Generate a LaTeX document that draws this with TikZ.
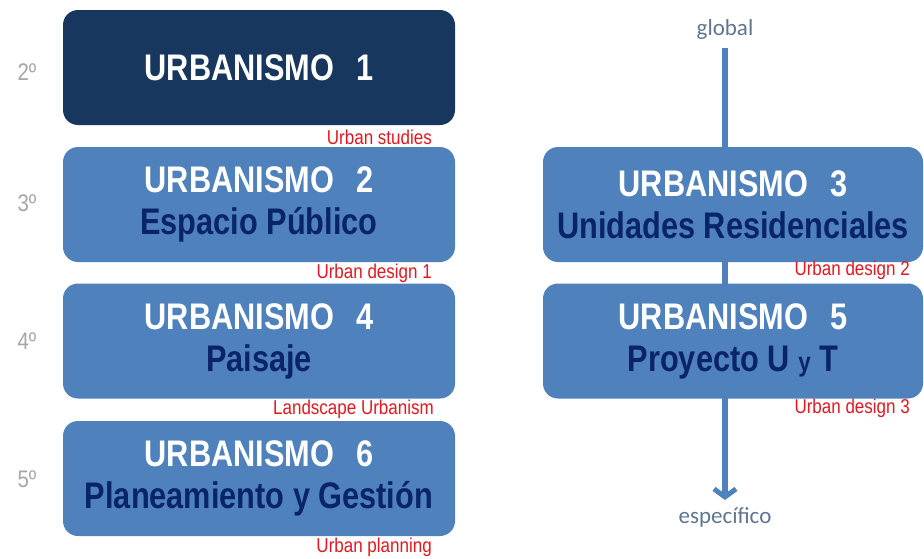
\documentclass[tikz,border=0pt]{standalone}
\usepackage{fontspec}
\usepackage{xcolor}
\usepackage{tikz}
\usetikzlibrary{arrows.meta}
\newfontfamily\boxfont[FakeStretch=0.83]{Liberation Sans}
\newfontfamily\tagfont[FakeStretch=0.85]{Liberation Sans}
\newfontfamily\notefont{Carlito}
\definecolor{darkbox}{RGB}{23,55,94}
\definecolor{lightbox}{RGB}{79,129,189}
\definecolor{subtext}{RGB}{10,36,104}
\definecolor{tagred}{RGB}{226,24,32}
\definecolor{yeargray}{RGB}{166,166,166}
\definecolor{notegray}{RGB}{95,117,144}

\begin{document}
\begin{tikzpicture}[
    x=1pt, y=-1pt,
    box/.style={rectangle, rounded corners=15pt, draw=none, fill=lightbox, text=white, align=center, minimum width=392pt, minimum height=115pt, inner sep=0pt, font=\boxfont\bfseries\fontsize{37}{42}\selectfont},
    rbox/.style={box, minimum width=380pt},
    tag/.style={anchor=east, inner sep=0pt, text=tagred, font=\tagfont\fontsize{20}{22}\selectfont},
    year/.style={inner sep=0pt, text=yeargray, font=\tagfont\fontsize{24}{26}\selectfont},
    note/.style={inner sep=0pt, text=notegray, font=\notefont\fontsize{23}{26}\selectfont},
    flow/.style={draw=lightbox, line width=5.5pt, -{Straight Barb[length=8pt, width=22pt, line width=5pt]}},
    ]
      \useasboundingbox (0,0) rectangle (924,558);

      \node [note] (global) at (725,29) {global};
      \node [note] (espec) at (725,517) {específico};
      \draw [flow] (global.south) ++(0,9) -- ([yshift=7pt]espec.north);

      \node [box, fill=darkbox] (u1) at (259,67.5) {URBANISMO\hspace{0.6em}1};
      \node [box] (u2) at (259,204.5) {URBANISMO\hspace{0.6em}2\\\textcolor{subtext}{Espacio Público}};
      \node [box] (u4) at (259,341) {URBANISMO\hspace{0.6em}4\\\textcolor{subtext}{Paisaje}};
      \node [box] (u6) at (259,478.5) {URBANISMO\hspace{0.6em}6\\\textcolor{subtext}{Planeamiento y Gestión}};
      \node [rbox] (u3) at (733,204.5) {URBANISMO\hspace{0.6em}3\\\textcolor{subtext}{Unidades Residenciales}};
      \node [rbox] (u5) at (733,341) {URBANISMO\hspace{0.6em}5\\\textcolor{subtext}{Proyecto U {\fontsize{27}{30}\selectfont y} T}};

      \node [tag] (t1) at (432,137) {Urban studies};
      \node [tag] (t2) at (432,273) {Urban design 1};
      \node [tag] (t4) at (434,409) {Landscape Urbanism};
      \node [tag] (t6) at (432,547) {Urban planning};
      \node [tag] (t3) at (910,270) {Urban design 2};
      \node [tag] (t5) at (910,408) {Urban design 3};

      \node [year] (y2) at (27,72) {2º};
      \node [year] (y3) at (27,203) {3º};
      \node [year] (y4) at (27,341) {4º};
      \node [year] (y5) at (27,479) {5º};
  \end{tikzpicture}
\end{document}
